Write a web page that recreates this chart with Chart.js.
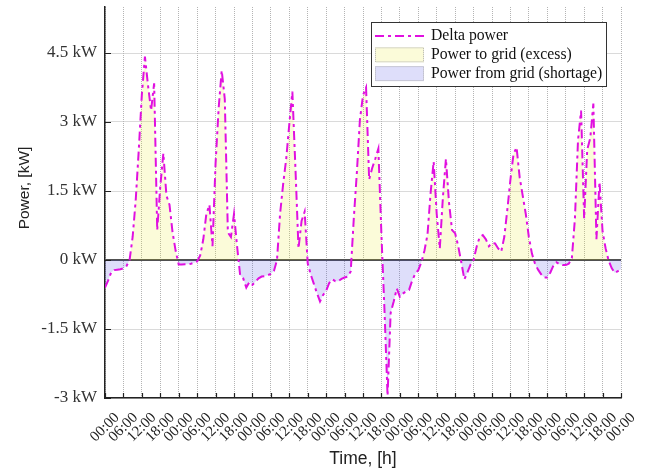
<!DOCTYPE html>
<html>
<head>
<meta charset="utf-8">
<title>Delta power</title>
<script src="https://cdn.jsdelivr.net/npm/chart.js@4.4.1/dist/chart.umd.min.js"></script>
<style>
  body { margin: 0; background: #fff; }
  canvas { display: block; }
</style>
</head>
<body>
<canvas id="powerChart" width="645" height="473"></canvas>
<script>
// hourly delta power in kW (production minus consumption), one array per day
const day1 = [-0.6, -0.45, -0.27, -0.22, -0.21, -0.2, -0.18, -0.13, 0.0, 0.5, 1.3, 2.4, 3.6, 4.42, 3.8, 3.25, 3.84, 0.65, 1.6, 2.32, 1.4, 1.2, 0.6, 0.2];
const day2 = [-0.1, -0.1, -0.09, -0.09, -0.08, -0.06, -0.03, 0.1, 0.45, 1.0, 1.2, 0.3, 2.1, 3.3, 4.12, 3.5, 0.6, 0.5, 1.0, 0.3, -0.33, -0.4, -0.6, -0.48];
const day3 = [-0.54, -0.47, -0.4, -0.36, -0.35, -0.33, -0.3, -0.24, 0.0, 1.0, 1.65, 2.2, 2.95, 3.66, 2.0, 0.25, 0.85, 1.05, -0.07, -0.32, -0.52, -0.72, -0.9, -0.76];
const day4 = [-0.67, -0.5, -0.42, -0.46, -0.46, -0.41, -0.38, -0.36, -0.25, 0.9, 1.9, 3.05, 3.58, 3.75, 1.75, 2.0, 2.2, 2.42, 0.55, -1.1, -2.95, -1.15, -0.9, -0.62];
const day5 = [-0.8, -0.73, -0.68, -0.65, -0.45, -0.3, -0.22, -0.05, 0.2, 0.55, 1.45, 2.14, 1.0, 0.25, 1.35, 2.2, 1.25, 0.65, 0.58, 0.3, -0.05, -0.42, -0.27, -0.1];
const day6 = [0.0, 0.29, 0.5, 0.54, 0.45, 0.3, 0.37, 0.36, 0.25, 0.18, 0.5, 1.1, 1.75, 2.3, 2.45, 1.8, 1.4, 1.0, 0.5, 0.14, -0.08, -0.21, -0.31, -0.38];
const day7 = [-0.38, -0.27, -0.12, -0.05, -0.09, -0.11, -0.11, -0.08, 0.04, 0.9, 2.6, 3.25, 0.9, 2.4, 2.65, 3.4, 0.45, 1.7, 0.62, 0.25, -0.02, -0.18, -0.28, -0.24];
const endOfWeek = -0.2;

const timeLabels = ['00:00', '06:00', '12:00', '18:00'];
const powerTicks = [-3, -1.5, 0, 1.5, 3, 4.5];
const seriesNames = ['Delta power', 'Power to grid (excess)', 'Power from grid (shortage)'];

const deltaColor = '#e010e0';
const excessColor = 'rgba(232, 232, 30, 0.17)';
const shortageColor = 'rgba(60, 60, 225, 0.17)';
const clear = 'rgba(0, 0, 0, 0)';

const delta = [].concat(day1, day2, day3, day4, day5, day6, day7, [endOfWeek]);
const points = delta.map((v, h) => ({ x: h, y: v }));

// short tick marks pointing into the plot, plus the rotated y title
const innerTicks = {
  id: 'innerTicks',
  afterDraw(chart) {
    const { ctx, chartArea: a, scales: { x, y } } = chart;
    ctx.save();
    ctx.strokeStyle = '#222';
    ctx.lineWidth = 1.2;
    ctx.beginPath();
    y.ticks.forEach(t => {
      const py = Math.round(y.getPixelForValue(t.value)) + 0.5;
      ctx.moveTo(a.left, py);
      ctx.lineTo(a.left + 6, py);
    });
    x.ticks.forEach(t => {
      const px = Math.round(x.getPixelForValue(t.value)) + 0.5;
      ctx.moveTo(px, a.bottom);
      ctx.lineTo(px, a.bottom - 5);
    });
    ctx.stroke();

    ctx.translate(25, 188);
    ctx.rotate(-Math.PI / 2);
    ctx.fillStyle = '#222';
    ctx.font = '15.5px "Liberation Sans"';
    ctx.textAlign = 'center';
    ctx.textBaseline = 'middle';
    ctx.fillText('Power, [kW]', 0, 0);
    ctx.restore();
  }
};

// boxed legend in the upper right corner of the plot
const boxLegend = {
  id: 'boxLegend',
  afterDraw(chart) {
    const ctx = chart.ctx;
    const bx = 371, by = 22, bw = 235, bh = 64;
    ctx.save();
    ctx.fillStyle = '#fff';
    ctx.fillRect(bx, by, bw, bh);
    ctx.strokeStyle = '#333';
    ctx.lineWidth = 1;
    ctx.strokeRect(bx + 0.5, by + 0.5, bw, bh);

    ctx.font = '15.7px "Liberation Serif"';
    ctx.textBaseline = 'middle';
    chart.data.datasets.forEach((ds, i) => {
      const cy = by + 14 + i * 18.8;
      if (i === 0) {
        ctx.strokeStyle = ds.borderColor;
        ctx.lineWidth = 2;
        ctx.setLineDash(ds.borderDash);
        ctx.beginPath();
        ctx.moveTo(bx + 4, cy);
        ctx.lineTo(bx + 53, cy);
        ctx.stroke();
        ctx.setLineDash([]);
      } else {
        ctx.fillStyle = ds.backgroundColor;
        ctx.fillRect(bx + 4, cy - 7.5, 49, 15);
        ctx.strokeStyle = '#b0b0b0';
        ctx.lineWidth = 1;
        ctx.setLineDash([1, 1]);
        ctx.strokeRect(bx + 4.5, cy - 7, 48, 14);
        ctx.setLineDash([]);
      }
      ctx.fillStyle = '#111';
      ctx.fillText(ds.label, bx + 60, cy);
    });
    ctx.restore();
  }
};

const isZero = c => c.tick && c.tick.value === 0;

new Chart(document.getElementById('powerChart'), {
  type: 'line',
  data: {
    datasets: [
      {
        label: seriesNames[0],
        data: points,
        borderColor: deltaColor,
        borderWidth: 2,
        borderDash: [9, 4, 3, 4],
        pointRadius: 0,
        fill: false,
        order: 0
      },
      {
        label: seriesNames[1],
        data: points,
        borderColor: clear,
        borderWidth: 0,
        backgroundColor: excessColor,
        pointRadius: 0,
        fill: { target: 'origin', above: excessColor, below: clear },
        order: 1
      },
      {
        label: seriesNames[2],
        data: points,
        borderColor: clear,
        borderWidth: 0,
        backgroundColor: shortageColor,
        pointRadius: 0,
        fill: { target: 'origin', above: clear, below: shortageColor },
        order: 2
      }
    ]
  },
  options: {
    responsive: false,
    animation: false,
    devicePixelRatio: 1,
    layout: { padding: { top: 7, right: 24, bottom: 0, left: 0 } },
    elements: { line: { tension: 0 } },
    plugins: {
      legend: { display: false },
      tooltip: { enabled: false }
    },
    scales: {
      x: {
        type: 'linear',
        min: 0,
        max: 168,
        afterFit: s => {
          s.height = 75;
          s.paddingLeft = 0;
          s.paddingRight = 0;
        },
        ticks: {
          stepSize: 6,
          autoSkip: false,
          minRotation: 45,
          maxRotation: 45,
          padding: 11,
          labelOffset: 12,
          color: '#222',
          font: { family: 'Liberation Serif', size: 15 },
          callback: v => timeLabels[(v / 6) % 4]
        },
        grid: { drawTicks: false, color: '#b4b4b4', lineWidth: 1 },
        border: { color: '#222', width: 1.5, dash: [1, 1] },
        title: {
          display: true,
          text: 'Time, [h]',
          color: '#222',
          font: { family: 'Liberation Sans', size: 17.5 },
          padding: { top: 0, bottom: 3 }
        }
      },
      y: {
        min: -3,
        max: 5.5,
        afterFit: s => {
          s.width = 105;
          s.paddingTop = 0;
          s.paddingBottom = 0;
        },
        afterBuildTicks: s => { s.ticks = powerTicks.map(v => ({ value: v })); },
        ticks: {
          padding: 8,
          color: '#333',
          font: { family: 'Liberation Serif', size: 17 },
          callback: v => v + ' kW'
        },
        grid: {
          drawTicks: false,
          color: c => (isZero(c) ? '#505050' : '#b4b4b4'),
          lineWidth: c => (isZero(c) ? 2 : 1)
        },
        border: { color: '#222', width: 1.5, dash: c => (isZero(c) ? [] : [1, 1]) }
      }
    }
  },
  plugins: [innerTicks, boxLegend]
});
</script>
</body>
</html>
